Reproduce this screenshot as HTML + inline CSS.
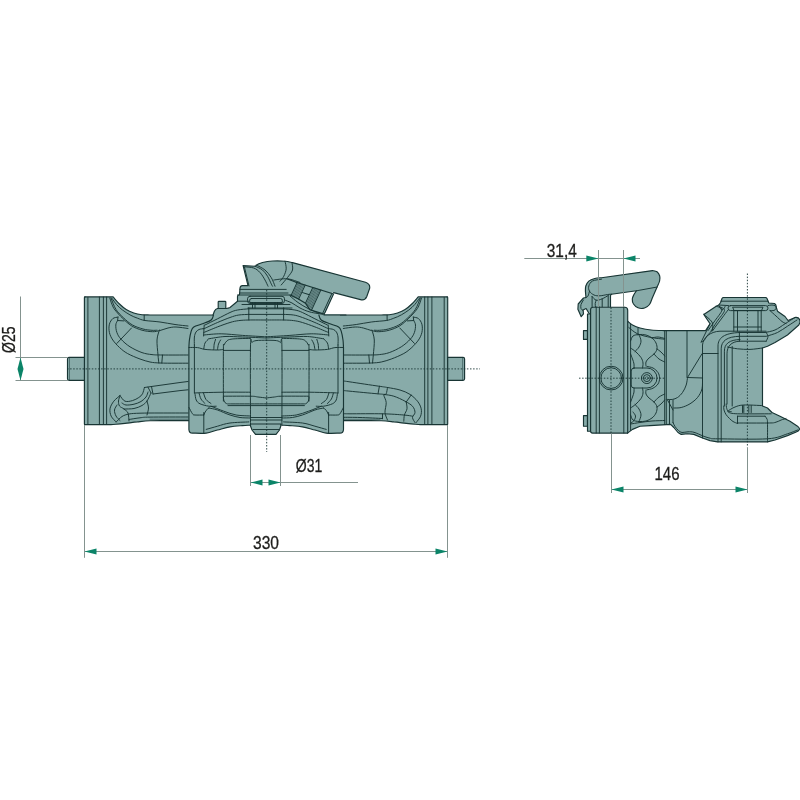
<!DOCTYPE html>
<html>
<head>
<meta charset="utf-8">
<title>Drawing</title>
<style>
html,body{margin:0;padding:0;background:#fff;}
body{width:800px;height:800px;overflow:hidden;}
svg{display:block;will-change:transform;}
text{font-family:"Liberation Sans",sans-serif;fill:#1d1d1b;stroke:#1d1d1b;stroke-width:0.3;}
.b{fill:#88aba9;stroke:#183534;stroke-width:1.15;stroke-linejoin:round;stroke-linecap:round;}
.f{fill:#88aba9;stroke:none;}
.o{fill:none;stroke:#183534;stroke-width:1.15;stroke-linejoin:round;stroke-linecap:round;}
.l{fill:none;stroke:#183534;stroke-width:0.95;stroke-linejoin:round;stroke-linecap:round;}
.t{fill:none;stroke:#183534;stroke-width:0.5;stroke-linejoin:round;stroke-linecap:round;}
.c{fill:none;stroke:#183534;stroke-width:0.9;stroke-dasharray:1.5 1.6;}
.d{fill:none;stroke:#84938f;stroke-width:1;}
.a{fill:#0b8468;stroke:none;}
</style>
</head>
<body>
<svg width="800" height="800" viewBox="0 0 800 800">
<rect width="800" height="800" fill="#fff"/>
<g id="lv">
<path class="f" d="M85 296.900H113.100C114.2 298.1 117.3 301.9 119.5 304C121.7 306.1 123.8 308.1 126.2 309.6C128.6 311.1 131.2 312.1 133.8 313C136.4 313.9 139.3 314.4 142 314.7C144.7 315 148.7 314.9 150 315H214V420.600H192C188.3 420.6 177 420.6 170 420.6C163 420.6 155.4 420.5 150 420.7C144.6 420.9 141.7 421.4 137.5 421.9C133.3 422.3 128.6 423 125 423.4C121.4 423.8 118.3 424.1 116 424.3C113.7 424.5 111.8 424.6 111 424.6H85Q84.4 424.600 84.4 424V297.700Q84.4 296.900 85 296.900Z"/>
<path class="o" d="M85 296.900H113.100C114.2 298.1 117.3 301.9 119.5 304C121.7 306.1 123.8 308.1 126.2 309.6C128.6 311.1 131.2 312.1 133.8 313C136.4 313.9 139.3 314.4 142 314.7C144.7 315 148.7 314.9 150 315H214"/>
<path class="o" d="M192 420.600C188.3 420.6 177 420.6 170 420.6C163 420.6 155.4 420.5 150 420.7C144.6 420.9 141.7 421.4 137.5 421.9C133.3 422.3 128.6 423 125 423.4C121.4 423.8 118.3 424.1 116 424.3C113.7 424.5 111.8 424.6 111 424.6H85Q84.4 424.600 84.4 424V297.700Q84.4 296.900 85 296.900"/>
<path class="b" d="M84.4 357.400H69Q67.5 357.400 67.5 358.900V378.800Q67.5 380.300 69 380.300H84.4Z"/>
<path class="t" d="M69.5 357.4L69.5 380.3"/>
<path class="l" d="M87.9 297.5L87.9 424"/>
<path class="l" d="M99.4 297L99.4 424.3"/>
<path class="l" d="M103.4 297L103.4 424.3"/>
<path class="l" d="M106.6 297L106.6 424.3"/>
<path class="l" d="M112 298.4C112.8 299.4 114.8 302.6 116.5 304.5C118.2 306.4 120.2 308.3 122.5 310C124.8 311.7 127.5 313.5 130 314.9C132.5 316.3 135 317.3 137.5 318.2C140 319.1 141.2 319.9 145 320.5C148.8 321.1 155 321.3 160 322C165 322.7 170.3 323.8 175 324.5C179.7 325.2 185.8 325.8 188 326"/>
<path class="l" d="M109.8 298C110.2 299.1 111.1 302.5 112 304.5C112.9 306.5 113.2 307.7 115 310C116.8 312.3 119.8 315.6 122.5 318.2C125.2 320.8 128.2 323.8 131.5 325.8C134.8 327.8 138.5 329.2 142 330.2C145.5 331.2 149.5 331.6 152.5 331.7C155.5 331.8 157.4 331.1 160 330.5C162.6 329.9 165.3 328.6 168 328C170.7 327.4 172.7 326.9 176 327C179.3 327.1 186 328.2 188 328.5"/>
<path class="l" d="M111 298C111.8 299.9 113.9 306.2 116 309.5C118.1 312.8 120.8 315.2 123.5 317.8C126.2 320.4 129.2 323.1 132.5 325C135.8 326.9 139.8 328.1 143 329C146.2 329.9 149.7 330.1 152 330.3C154.3 330.5 156.2 330.2 157 330.2"/>
<path class="l" d="M144.2 315.2L144.2 320.4"/>
<path class="l" d="M118 317.1C117.1 317.4 114.2 317.4 112.8 318.6C111.4 319.8 110 321.9 109.4 324.2C108.8 326.5 108.8 329.9 109.4 332.5C110 335.1 111.1 337.5 112.8 340C114.5 342.5 117 345.2 119.5 347.5C122 349.8 124.1 351.6 127.5 353.5C130.9 355.4 136.2 357.6 140 359C143.8 360.4 146.7 361.3 150 362C153.3 362.7 155.8 362.8 160 363C164.2 363.2 170.3 363.2 175 363.2C179.7 363.2 185.8 363.2 188 363.2"/>
<path class="l" d="M117.6 320.5C117.3 321.2 115.9 323 115.8 325C115.7 327 116 330.1 116.9 332.5C117.8 334.9 118.8 336.8 121 339.2C123.2 341.6 126.5 344.6 130 346.8C133.5 349 138.3 351.3 142 352.6C145.7 353.9 148.6 354.2 152 354.6C155.4 355 156.5 354.9 162.5 355C168.5 355.1 183.8 355 188 355"/>
<path class="l" d="M118 317.1L117.6 320.5L124 320.9"/>
<path class="l" d="M131.5 328L116.9 343.4"/>
<path class="l" d="M159.4 330C159 331.7 157.2 335.8 157 340C156.8 344.2 157.7 351.2 158 355C158.3 358.8 158.7 361.7 158.8 363"/>
<path class="l" d="M162.5 355L161.8 363"/>
<path class="l" d="M144.4 387.5L180 382.5L188 381.5"/>
<path class="l" d="M153 394L180 390.6L188 389.8"/>
<path class="l" d="M148 387.2L151 393"/>
<path class="l" d="M151.5 386.6L153 394"/>
<path class="l" d="M144.4 387.5C144.1 388.6 143.4 392.1 142.5 393.8C141.6 395.5 140.5 396.4 138.8 397.5C137.1 398.6 134.8 400 132.5 400.6C130.2 401.2 127.1 402 125 401.2C122.9 400.4 120.8 396.5 120 395.6"/>
<path class="l" d="M120 395.6C119 396.5 115.5 399 113.8 401.2C112.1 403.4 110.4 406.3 110 408.8C109.6 411.3 110.2 414 111.2 416.2C112.2 418.4 115.4 421 116.2 422"/>
<path class="l" d="M148 392C147.7 392.8 147.2 395.4 146 397C144.8 398.6 143 400.3 141 401.5C139 402.7 136.5 403.6 134 404.2C131.5 404.8 128 405.2 126 405C124 404.8 122.7 403.3 122 403"/>
<path class="l" d="M120 395.6C119.8 396.5 118.6 399.3 118.5 401C118.4 402.7 118.6 404.7 119.5 406C120.4 407.3 122.6 407.8 124 409C125.4 410.2 127.2 411 128 413C128.8 415 128.8 419.7 129 421"/>
<path class="l" d="M117 405C116.6 405.8 114.7 408.2 114.5 410C114.3 411.8 115.1 414.2 116 416C116.9 417.8 119.3 419.8 120 420.5"/>
<path class="l" d="M124 409C125.7 408.9 131 409.1 134 408.5C137 407.9 139.8 406.8 142 405.5C144.2 404.2 145.5 403.1 147 401C148.5 398.9 150.3 394.3 151 393"/>
<path class="l" d="M147 401C147.2 402.2 148.5 405.7 148.5 408C148.5 410.3 147.2 413.8 147 415"/>
<path class="l" d="M116.2 422C117.2 421.1 119.9 417.8 122 416.5C124.1 415.2 126 414.6 129 414C132 413.4 134.8 413.4 140 413.2C145.2 413 152 413 160 413C168 413 183.3 413 188 413"/>
<path class="l" d="M129 419.5C130.8 419.2 136.5 418.2 140 417.8C143.5 417.4 142 417.2 150 417.1C158 417 181.7 417 188 417"/>
<path class="t" d="M150 419.2L188 419.2"/>
</g>
<g transform="translate(531.3 0) scale(-1 1)">
<path class="f" d="M84.2 296.900H113.100C114.2 298.1 117.3 301.9 119.5 304C121.7 306.1 123.8 308.1 126.2 309.6C128.6 311.1 131.2 312.1 133.8 313C136.4 313.9 139.3 314.4 142 314.7C144.7 315 148.7 314.9 150 315H214V420.600H192C188.3 420.6 177 420.6 170 420.6C163 420.6 155.4 420.5 150 420.7C144.6 420.9 141.7 421.4 137.5 421.9C133.3 422.3 128.6 423 125 423.4C121.4 423.8 118.3 424.1 116 424.3C113.7 424.5 111.8 424.6 111 424.6H84.2Q83.6 424.600 83.6 424V297.700Q83.6 296.900 84.2 296.900Z"/>
<path class="o" d="M84.2 296.900H113.100C114.2 298.1 117.3 301.9 119.5 304C121.7 306.1 123.8 308.1 126.2 309.6C128.6 311.1 131.2 312.1 133.8 313C136.4 313.9 139.3 314.4 142 314.7C144.7 315 148.7 314.9 150 315H214"/>
<path class="o" d="M192 420.600C188.3 420.6 177 420.6 170 420.6C163 420.6 155.4 420.5 150 420.7C144.6 420.9 141.7 421.4 137.5 421.9C133.3 422.3 128.6 423 125 423.4C121.4 423.8 118.3 424.1 116 424.3C113.7 424.5 111.8 424.6 111 424.6H84.2Q83.6 424.600 83.6 424V297.700Q83.6 296.900 84.2 296.900"/>
<path class="b" d="M83.6 357.400H68.2Q66.7 357.400 66.7 358.900V378.800Q66.7 380.300 68.2 380.300H83.6Z"/>
<path class="t" d="M68.7 357.4L68.7 380.3"/>
<path class="l" d="M87.1 297.5L87.1 424"/>
<path class="l" d="M99.4 297L99.4 424.3"/>
<path class="l" d="M103.4 297L103.4 424.3"/>
<path class="l" d="M106.6 297L106.6 424.3"/>
<path class="l" d="M112 298.4C112.8 299.4 114.8 302.6 116.5 304.5C118.2 306.4 120.2 308.3 122.5 310C124.8 311.7 127.5 313.5 130 314.9C132.5 316.3 135 317.3 137.5 318.2C140 319.1 141.2 319.9 145 320.5C148.8 321.1 155 321.3 160 322C165 322.7 170.3 323.8 175 324.5C179.7 325.2 185.8 325.8 188 326"/>
<path class="l" d="M109.8 298C110.2 299.1 111.1 302.5 112 304.5C112.9 306.5 113.2 307.7 115 310C116.8 312.3 119.8 315.6 122.5 318.2C125.2 320.8 128.2 323.8 131.5 325.8C134.8 327.8 138.5 329.2 142 330.2C145.5 331.2 149.5 331.6 152.5 331.7C155.5 331.8 157.4 331.1 160 330.5C162.6 329.9 165.3 328.6 168 328C170.7 327.4 172.7 326.9 176 327C179.3 327.1 186 328.2 188 328.5"/>
<path class="l" d="M111 298C111.8 299.9 113.9 306.2 116 309.5C118.1 312.8 120.8 315.2 123.5 317.8C126.2 320.4 129.2 323.1 132.5 325C135.8 326.9 139.8 328.1 143 329C146.2 329.9 149.7 330.1 152 330.3C154.3 330.5 156.2 330.2 157 330.2"/>
<path class="l" d="M144.2 315.2L144.2 320.4"/>
<path class="l" d="M118 317.1C117.1 317.4 114.2 317.4 112.8 318.6C111.4 319.8 110 321.9 109.4 324.2C108.8 326.5 108.8 329.9 109.4 332.5C110 335.1 111.1 337.5 112.8 340C114.5 342.5 117 345.2 119.5 347.5C122 349.8 124.1 351.6 127.5 353.5C130.9 355.4 136.2 357.6 140 359C143.8 360.4 146.7 361.3 150 362C153.3 362.7 155.8 362.8 160 363C164.2 363.2 170.3 363.2 175 363.2C179.7 363.2 185.8 363.2 188 363.2"/>
<path class="l" d="M117.6 320.5C117.3 321.2 115.9 323 115.8 325C115.7 327 116 330.1 116.9 332.5C117.8 334.9 118.8 336.8 121 339.2C123.2 341.6 126.5 344.6 130 346.8C133.5 349 138.3 351.3 142 352.6C145.7 353.9 148.6 354.2 152 354.6C155.4 355 156.5 354.9 162.5 355C168.5 355.1 183.8 355 188 355"/>
<path class="l" d="M118 317.1L117.6 320.5L124 320.9"/>
<path class="l" d="M131.5 328L116.9 343.4"/>
<path class="l" d="M159.4 330C159 331.7 157.2 335.8 157 340C156.8 344.2 157.7 351.2 158 355C158.3 358.8 158.7 361.7 158.8 363"/>
<path class="l" d="M162.5 355L161.8 363"/>
<path class="l" d="M188.3 381C187.1 381.1 187.3 381 181.3 381.9C175.3 382.8 158.8 385.3 152.5 386.2C146.2 387.1 147.3 386.9 143.8 387.5C140.3 388.1 135.1 388.9 131.3 390C127.6 391.1 124.2 392.5 121.3 394.4C118.4 396.3 115.7 398.8 113.8 401.2C111.9 403.6 110.6 406.3 110.1 408.8C109.6 411.3 109.9 413.9 110.7 416.2C111.5 418.5 114.4 421.4 115.1 422.5"/>
<path class="l" d="M188.3 390.5C187.1 390.6 187.1 390.6 181.3 391.2C175.6 391.8 159.4 393.3 153.8 393.8C148.2 394.3 150.2 394 147.5 394.4C144.8 394.8 141 395.1 137.5 396.2C134 397.3 129.4 399.5 126.3 401.2C123.2 402.9 120.5 404.3 118.8 406.2C117.1 408.1 116.3 410.6 116.3 412.5C116.3 414.4 118.8 415.8 118.8 417.5C118.8 419.2 116.7 421.7 116.3 422.5"/>
<path class="l" d="M151.9 386.2L153.3 393.8"/>
<path class="l" d="M143.8 387.5C144 388.6 144.5 392.6 145.1 393.8C145.7 395.1 147.5 393.6 147.5 395C147.5 396.4 145.3 399.6 145.1 402.5C144.9 405.4 146.5 409.6 146.3 412.5C146.1 415.4 144.2 418.8 143.8 420"/>
<path class="l" d="M120.1 395L125.1 402"/>
<path class="l" d="M125.1 402C125 403.1 124 406.6 124.3 408.8C124.6 411 126.4 412.9 126.9 415C127.4 417.1 127.4 420.2 127.5 421.2"/>
<path class="l" d="M188.3 413.6C187.1 413.6 187.9 413.8 181.3 413.8C174.7 413.8 157.8 413.6 148.8 413.8C139.8 414 132.5 414.6 127.5 415C122.5 415.4 120.2 416 118.8 416.2"/>
<path class="l" d="M188.3 417.3C185.5 417.3 177.9 417.3 171.3 417.5C164.7 417.7 152.6 418.3 148.8 418.5"/>
<path class="t" d="M188.3 419.3L151.3 419.3"/>
<path class="l" d="M148.8 413.8L148.8 418.8"/>
</g>
<g id="lc">
<path class="f" d="M248 285.600L243.100 265.600L255 266.300C256.8 264.6 259.7 263.2 262.5 262.5C265.3 261.8 268.8 261.2 272.5 261C276.2 260.8 281.7 260.9 285 261.2C288.3 261.5 291.2 262.4 292.5 262.6L365.500 282.300Q370.500 284 369.600 288.500L366.800 296.500Q365 300.800 360.500 299.600L333.600 292.600L300 300L250 290Z"/>
<path class="o" d="M248 285.600L243.100 265.600L255 266.300C256.8 264.6 259.7 263.2 262.5 262.5C265.3 261.8 268.8 261.2 272.5 261C276.2 260.8 281.7 260.9 285 261.2C288.3 261.5 291.2 262.4 292.5 262.6L365.500 282.300Q370.500 284 369.600 288.500L366.800 296.500Q365 300.800 360.500 299.600L333.600 292.600"/>
<path class="b" d="M218.200 310V302Q218.200 301.300 219 301.300H225Q225.800 301.300 225.800 302V310Z"/>
<path class="f" d="M213 330V315L213 315L214.400 311.300Q215.500 309 217.500 308.500H226.200Q228.500 308.300 230 307.500L237.500 301.200V296.500Q237.500 295 239.500 294.800L240 288Q240.300 285.600 242.500 285.600H248L290 285.600L300 300L324.500 314.500H340V330Z"/>
<path class="o" d="M213 315L214.400 311.300Q215.500 309 217.500 308.500H226.200Q228.500 308.300 230 307.500L237.500 301.200V296.500Q237.500 295 239.500 294.800L240 288Q240.300 285.600 242.500 285.600H248"/>
<g transform="matrix(0.955 0.297 -0.42 0.907 296.1 282.25)">
<path class="f" d="M0 0H39.300V20.500Q39.300 22.300 37.500 22.300H24.200L17.500 17.400L8.700 15.300L0 14Z"/>
<path class="t" d="M2.2 0V14.3"/>
<path class="t" d="M3.4 0V14.5"/>
<path class="t" d="M4.6 0V14.6"/>
<path class="t" d="M5.8 0V14.8"/>
<path class="t" d="M7 0V14.9"/>
<path class="t" d="M8.3 0V15.1"/>
<path class="t" d="M18.7 0V18.1"/>
<path class="t" d="M19.9 0V18.7"/>
<path class="t" d="M21.1 0V19.3"/>
<path class="t" d="M22.3 0V19.9"/>
<path class="t" d="M23.6 0V20.5"/>
<path class="t" d="M24.8 0V21.1"/>
<path class="l" d="M9.500 0V15.500M17.500 0V17.400M26 0V22.300M1 0V14.200M9.500 8H17.500M37.500 1V21.500"/>
<path class="o" d="M0 0H39.300V20.500Q39.300 22.300 37.500 22.300H24.200L17.500 17.400L8.700 15.300L0 14"/>
</g>
<path class="f" d="M213.500 315H319V316L343.500 347.500V420H189V347.500Z"/>
<path class="f" d="M188.900 347V429.400Q189 433.100 192.500 433.100C194.8 433.1 202 433.6 206.2 433.1C210.4 432.6 213.5 431 217.5 430C221.5 429 225.8 427.6 230 426.9C234.2 426.2 239.1 425.9 242.5 425.6C245.9 425.3 249.2 425.3 250.5 425.2H281.900C283.2 425.3 286.5 425.3 289.9 425.6C293.3 425.9 298.2 426.2 302.4 426.9C306.6 427.6 310.9 429 314.9 430C318.9 431 322 432.6 326.2 433.1C330.4 433.6 337.6 433.1 339.9 433.1Q343.400 433.100 343.500 429.400V347Z"/>
<path class="o" d="M324 315H346"/>
<path class="b" d="M250.500 424V426L252 430L255.500 434.400H276L279.500 430L280.800 426V424Z"/>
<path class="l" d="M253 429.500H279"/>
<path class="o" d="M213.5 315C213.1 315.8 213 318.5 211.2 320C209.4 321.5 205.4 322.7 202.5 323.8C199.6 324.9 195.7 325.7 193.8 326.9C191.9 328.1 191.9 329 191.2 331.2C190.5 333.4 189.8 337.3 189.4 340C189 342.7 189 346.2 188.9 347.5V429.400Q189 433.100 192.500 433.100C194.8 433.1 202 433.6 206.2 433.1C210.4 432.6 213.5 431 217.5 430C221.5 429 225.8 427.6 230 426.9C234.2 426.2 239.1 425.9 242.5 425.6C245.9 425.3 249.2 425.3 250.5 425.2"/>
<path class="l" d="M203.8 328.6C203 328.8 200.3 328.9 199 329.5C197.7 330.1 196.8 330.8 196 332C195.2 333.2 194.7 334.8 194.4 337C194.1 339.2 194.4 343.7 194.4 345"/>
<path class="l" d="M194.4 345L194.4 393"/>
<path class="l" d="M189 347.5C190.4 347.5 194.8 347.3 197.5 347.6C200.2 347.9 201.7 349 205 349.4C208.3 349.8 214.4 350 217.5 350C220.6 350 222.4 349.5 223.4 349.4"/>
<path class="l" d="M223.4 401C223.4 392.4 223.3 358.7 223.4 349.4C223.5 340.1 223.4 346.4 224 345C224.6 343.6 225.8 341.8 227 340.8C228.2 339.8 228.8 339.6 231 339.2C233.2 338.8 236.8 338.7 240 338.6C243.2 338.5 248.8 338.4 250.5 338.4"/>
<path class="l" d="M223.4 350.4L250.5 350.4"/>
<path class="l" d="M203.8 348.8C204 347.8 204.2 344.7 205 343C205.8 341.3 208.2 339.5 208.8 338.8"/>
<path class="l" d="M213.8 349.4C213.9 348.5 213.9 345.7 214.2 344C214.5 342.3 215.4 340.2 215.6 339.4"/>
<path class="l" d="M217.5 349.4C217.7 348.5 218 345.6 218.5 344C219 342.4 220.2 340.7 220.6 340"/>
<path class="l" d="M204.2 325L203.6 336"/>
<path class="l" d="M205 325C207.1 324 213.3 320.9 217.5 318.8C221.7 316.7 226.7 314 230 312.5C233.3 311 234.4 310.6 237.5 310C240.6 309.4 246.9 309 248.8 308.8"/>
<path class="l" d="M203.8 328.8C206.1 327.8 213.1 324.4 217.5 322.5C221.9 320.6 226.4 318.8 230 317.5C233.6 316.2 235.7 315.5 238.8 315C241.9 314.5 247.1 314.5 248.8 314.4"/>
<path class="l" d="M203.8 332.5C206.1 331.6 213.1 328.6 217.5 326.9C221.9 325.2 226.4 323.6 230 322.5C233.6 321.4 235.7 321 238.8 320.6C241.9 320.2 244.2 320.1 248.8 320C253.4 319.9 263.3 320 266.2 320"/>
<path class="l" d="M203.8 335C206.7 334.8 214.8 333.7 221.2 333.8C227.6 333.9 235 334.9 242.5 335.4C250 335.9 262.2 336.6 266.2 336.8"/>
<path class="l" d="M208.8 338.8C211.5 338.4 219.4 336.8 225 336.5C230.6 336.2 235.6 336.8 242.5 337C249.4 337.2 262.2 337.8 266.2 338"/>
<path class="l" d="M248.8 307.8L248.8 320"/>
<path class="l" d="M248.8 308.8L266.2 308.8"/>
<path class="l" d="M248.8 314.4L266.2 314.4"/>
<path class="l" d="M250.5 425C250.5 411.8 250.2 359.8 250.5 346C250.8 332.2 251.1 343.4 252 342.5C252.9 341.6 253.6 341 256 340.6C258.4 340.2 264.5 340.3 266.2 340.2"/>
<path class="l" d="M194.4 393C196.2 392.9 200.2 392.7 205 392.6C209.8 392.5 215.8 392.3 223.4 392.2C231 392.1 246 392.2 250.5 392.2"/>
<path class="l" d="M223.4 397C223.5 397.7 223.5 399.9 224 401C224.5 402.1 225.2 403.1 226.5 403.6C227.8 404.1 225.4 403.8 232 403.9C238.6 403.9 260.5 403.9 266.2 403.9"/>
<path class="l" d="M223.8 396.2C228.2 396.2 244.8 396.1 250.5 396.2C256.2 396.3 255.4 396.7 258 397C260.6 397.3 264.8 397.8 266.2 398"/>
<path class="l" d="M228 405.6L266.2 405.6"/>
<path class="l" d="M208.8 408C210.2 408.3 214 408.8 217.5 410C221 411.2 226.2 413.8 230 415C233.8 416.2 236.6 417 240 417.5C243.4 418 248.8 417.9 250.5 418"/>
<path class="l" d="M211 406.2C213.1 407 219.6 409.7 223.8 411.2C228 412.7 231.8 414.2 236.2 415C240.6 415.8 248.1 415.8 250.5 416"/>
<path class="l" d="M250.5 417.5L266.2 417.5"/>
<path class="l" d="M250.5 420L266.2 420"/>
<path class="l" d="M189 407.5C189.6 408.6 191.5 412.6 192.5 413.8C193.5 415.1 193.1 414.8 195 415C196.9 415.2 202.3 415 203.8 415"/>
<path class="l" d="M195 393.8C195.2 394.8 195.4 398.3 196.2 400C197 401.7 197.9 402.8 200 403.8C202.1 404.8 206.1 405.8 208.8 406.2C211.5 406.6 215 406.2 216.2 406.2"/>
<path class="l" d="M199 393C199.3 394 200 397.2 201 399C202 400.8 204.3 402.8 205 403.5"/>
<path class="l" d="M203.5 393C203.9 394.1 204.8 397.8 206 399.5C207.2 401.2 210.2 402.8 211 403.5"/>
<path class="l" d="M203.8 412.5L203.8 432.8"/>
<path class="l" d="M203.8 415C204.2 414.2 205.1 411.7 206 410.5C206.9 409.3 208.5 408.4 209 408"/>
<path class="l" d="M206.2 429.4C208.1 428.9 213.5 427.3 217.5 426.2C221.5 425.1 224.8 423.7 230 423C235.2 422.3 245.7 422.1 248.8 421.9"/>
<g transform="translate(532.4 0) scale(-1 1)">
<path class="o" d="M213.5 315C213.1 315.8 213 318.5 211.2 320C209.4 321.5 205.4 322.7 202.5 323.8C199.6 324.9 195.7 325.7 193.8 326.9C191.9 328.1 191.9 329 191.2 331.2C190.5 333.4 189.8 337.3 189.4 340C189 342.7 189 346.2 188.9 347.5V429.400Q189 433.100 192.500 433.100C194.8 433.1 202 433.6 206.2 433.1C210.4 432.6 213.5 431 217.5 430C221.5 429 225.8 427.6 230 426.9C234.2 426.2 239.1 425.9 242.5 425.6C245.9 425.3 249.2 425.3 250.5 425.2"/>
<path class="l" d="M203.8 328.6C203 328.8 200.3 328.9 199 329.5C197.7 330.1 196.8 330.8 196 332C195.2 333.2 194.7 334.8 194.4 337C194.1 339.2 194.4 343.7 194.4 345"/>
<path class="l" d="M194.4 345L194.4 393"/>
<path class="l" d="M189 347.5C190.4 347.5 194.8 347.3 197.5 347.6C200.2 347.9 201.7 349 205 349.4C208.3 349.8 214.4 350 217.5 350C220.6 350 222.4 349.5 223.4 349.4"/>
<path class="l" d="M223.4 401C223.4 392.4 223.3 358.7 223.4 349.4C223.5 340.1 223.4 346.4 224 345C224.6 343.6 225.8 341.8 227 340.8C228.2 339.8 228.8 339.6 231 339.2C233.2 338.8 236.8 338.7 240 338.6C243.2 338.5 248.8 338.4 250.5 338.4"/>
<path class="l" d="M223.4 350.4L250.5 350.4"/>
<path class="l" d="M203.8 348.8C204 347.8 204.2 344.7 205 343C205.8 341.3 208.2 339.5 208.8 338.8"/>
<path class="l" d="M213.8 349.4C213.9 348.5 213.9 345.7 214.2 344C214.5 342.3 215.4 340.2 215.6 339.4"/>
<path class="l" d="M217.5 349.4C217.7 348.5 218 345.6 218.5 344C219 342.4 220.2 340.7 220.6 340"/>
<path class="l" d="M204.2 325L203.6 336"/>
<path class="l" d="M205 325C207.1 324 213.3 320.9 217.5 318.8C221.7 316.7 226.7 314 230 312.5C233.3 311 234.4 310.6 237.5 310C240.6 309.4 246.9 309 248.8 308.8"/>
<path class="l" d="M203.8 328.8C206.1 327.8 213.1 324.4 217.5 322.5C221.9 320.6 226.4 318.8 230 317.5C233.6 316.2 235.7 315.5 238.8 315C241.9 314.5 247.1 314.5 248.8 314.4"/>
<path class="l" d="M203.8 332.5C206.1 331.6 213.1 328.6 217.5 326.9C221.9 325.2 226.4 323.6 230 322.5C233.6 321.4 235.7 321 238.8 320.6C241.9 320.2 244.2 320.1 248.8 320C253.4 319.9 263.3 320 266.2 320"/>
<path class="l" d="M203.8 335C206.7 334.8 214.8 333.7 221.2 333.8C227.6 333.9 235 334.9 242.5 335.4C250 335.9 262.2 336.6 266.2 336.8"/>
<path class="l" d="M208.8 338.8C211.5 338.4 219.4 336.8 225 336.5C230.6 336.2 235.6 336.8 242.5 337C249.4 337.2 262.2 337.8 266.2 338"/>
<path class="l" d="M248.8 307.8L248.8 320"/>
<path class="l" d="M248.8 308.8L266.2 308.8"/>
<path class="l" d="M248.8 314.4L266.2 314.4"/>
<path class="l" d="M250.5 425C250.5 411.8 250.2 359.8 250.5 346C250.8 332.2 251.1 343.4 252 342.5C252.9 341.6 253.6 341 256 340.6C258.4 340.2 264.5 340.3 266.2 340.2"/>
<path class="l" d="M194.4 393C196.2 392.9 200.2 392.7 205 392.6C209.8 392.5 215.8 392.3 223.4 392.2C231 392.1 246 392.2 250.5 392.2"/>
<path class="l" d="M223.4 397C223.5 397.7 223.5 399.9 224 401C224.5 402.1 225.2 403.1 226.5 403.6C227.8 404.1 225.4 403.8 232 403.9C238.6 403.9 260.5 403.9 266.2 403.9"/>
<path class="l" d="M223.8 396.2C228.2 396.2 244.8 396.1 250.5 396.2C256.2 396.3 255.4 396.7 258 397C260.6 397.3 264.8 397.8 266.2 398"/>
<path class="l" d="M228 405.6L266.2 405.6"/>
<path class="l" d="M208.8 408C210.2 408.3 214 408.8 217.5 410C221 411.2 226.2 413.8 230 415C233.8 416.2 236.6 417 240 417.5C243.4 418 248.8 417.9 250.5 418"/>
<path class="l" d="M211 406.2C213.1 407 219.6 409.7 223.8 411.2C228 412.7 231.8 414.2 236.2 415C240.6 415.8 248.1 415.8 250.5 416"/>
<path class="l" d="M250.5 417.5L266.2 417.5"/>
<path class="l" d="M250.5 420L266.2 420"/>
<path class="l" d="M189 407.5C189.6 408.6 191.5 412.6 192.5 413.8C193.5 415.1 193.1 414.8 195 415C196.9 415.2 202.3 415 203.8 415"/>
<path class="l" d="M195 393.8C195.2 394.8 195.4 398.3 196.2 400C197 401.7 197.9 402.8 200 403.8C202.1 404.8 206.1 405.8 208.8 406.2C211.5 406.6 215 406.2 216.2 406.2"/>
<path class="l" d="M199 393C199.3 394 200 397.2 201 399C202 400.8 204.3 402.8 205 403.5"/>
<path class="l" d="M203.5 393C203.9 394.1 204.8 397.8 206 399.5C207.2 401.2 210.2 402.8 211 403.5"/>
<path class="l" d="M203.8 412.5L203.8 432.8"/>
<path class="l" d="M203.8 415C204.2 414.2 205.1 411.7 206 410.5C206.9 409.3 208.5 408.4 209 408"/>
<path class="l" d="M206.2 429.4C208.1 428.9 213.5 427.3 217.5 426.2C221.5 425.1 224.8 423.7 230 423C235.2 422.3 245.7 422.1 248.8 421.9"/>
</g>
<path class="l" d="M244.4 266.9L249 286"/>
<path class="l" d="M245 266.9C246.5 267.1 251.3 267.1 253.8 268C256.3 268.9 258.1 270.5 260 272.5C261.9 274.5 263.7 277.7 265 280C266.3 282.3 267.5 285.2 268 286.2"/>
<path class="l" d="M255 266.2C256.2 266.8 260.4 268.3 262.5 270C264.6 271.7 266.1 273.9 267.5 276.2C268.9 278.5 270.4 282.1 271.2 283.8C272 285.5 272.3 285.8 272.5 286.2"/>
<path class="l" d="M256.2 265C257.7 265.8 262.5 267.9 265 270C267.5 272.1 269.5 274.8 271.2 277.5C272.9 280.2 274.4 284.8 275 286.2"/>
<path class="l" d="M285 261.2C285.2 262.5 286.4 266.3 286.2 268.8C286 271.3 284.8 274.1 283.8 276.2C282.8 278.3 280.6 280.4 280 281.2"/>
<path class="l" d="M291.9 262.5C292 263.8 293.2 267.5 292.5 270C291.8 272.5 289.4 275 287.5 277.5C285.6 280 282.2 283.8 281.2 285"/>
<path class="l" d="M273.8 280C276.1 279.8 283.1 278.4 287.5 278.8C291.9 279.2 297.9 281.9 300 282.5"/>
<path class="o" d="M287.5 279L296.1 282.2"/>
<path class="l" d="M240 289.4L286.2 289.4"/>
<path class="l" d="M240 293L288 293"/>
<path class="l" d="M237.5 295L290 295"/>
<path class="l" d="M250 296.300H282Q284.500 296.300 284.500 298.800V300.500Q284.500 303.500 282 303.500H250Q247.500 303.500 247.500 300.500V298.800Q247.500 296.300 250 296.300Z"/>
<path class="l" d="M251.500 298.500H280.500Q282.300 298.500 282.300 300.300V302.500H249.700V300.300Q249.700 298.500 251.500 298.500Z"/>
<path class="l" d="M252.5 302.5L252.5 308"/>
<path class="l" d="M255 302.5L255 308"/>
<path class="l" d="M275 302.5L275 308"/>
<path class="l" d="M277.5 302.5L277.5 308"/>
<path class="l" d="M237.5 301.2L248.8 301.2"/>
<path class="l" d="M242 304.5L290 304.5"/>
<path class="l" d="M248 308L292 308"/>
<path class="l" d="M284.5 300C285.8 300.5 289.4 301.7 292 303C294.6 304.3 297 306.5 300 308C303 309.5 305.9 310.9 310 312C314.1 313.1 322.1 314.1 324.5 314.5"/>
<path class="l" d="M290 296C291.3 297.1 295 300.4 298 302.5C301 304.6 304.7 306.8 308 308.5C311.3 310.2 316.3 312.2 318 313"/>
</g>
<g id="rv">
<path class="f" d="M586 298L585.400 291.200C585.5 290.3 585.2 287.7 585.8 286C586.4 284.3 587.3 282.4 588.8 281.1C590.3 279.9 592.7 279.1 594.8 278.5C596.9 277.9 600.4 277.8 601.5 277.7L652.500 270.600C653.2 270.8 655.8 270.9 657 271.8C658.2 272.7 659.3 274.5 659.7 276C660.1 277.5 660 279.2 659.6 281C659.2 282.8 657.6 285.8 657.2 286.8L652.300 298C651.8 299.1 650.8 302.8 649.5 304.5C648.2 306.2 646.4 307.4 644.5 308C642.6 308.6 639.8 308.5 638 307.8C636.2 307.1 634.5 305.5 633.5 304C632.5 302.5 632.2 300.6 632.3 299C632.4 297.4 633.3 295.9 634 294.5C634.7 293.1 636.1 291.4 636.5 290.8L611.500 294.200L610.500 295.500V307.200H586Z"/>
<path class="o" d="M586 298L585.400 291.200C585.5 290.3 585.2 287.7 585.8 286C586.4 284.3 587.3 282.4 588.8 281.1C590.3 279.9 592.7 279.1 594.8 278.5C596.9 277.9 600.4 277.8 601.5 277.7L652.500 270.600C653.2 270.8 655.8 270.9 657 271.8C658.2 272.7 659.3 274.5 659.7 276C660.1 277.5 660 279.2 659.6 281C659.2 282.8 657.6 285.8 657.2 286.8L652.300 298C651.8 299.1 650.8 302.8 649.5 304.5C648.2 306.2 646.4 307.4 644.5 308C642.6 308.6 639.8 308.5 638 307.8C636.2 307.1 634.5 305.5 633.5 304C632.5 302.5 632.2 300.6 632.3 299C632.4 297.4 633.3 295.9 634 294.5C634.7 293.1 636.1 291.4 636.5 290.8L611.500 294.200L610.500 295.500V307.200"/>
<path class="f" d="M586 297.500L583.500 298L578.200 304L577.900 309.200L581.200 316.700L583.500 313.800L583.100 310L586.100 308.500L588.800 313L591 316V297.500Z"/>
<path class="o" d="M586 297.500L583.500 298L578.200 304L577.900 309.200L581.200 316.700L583.500 313.800L583.100 310L586.100 308.500L588.800 313L591 316"/>
<path class="l" d="M583.5 300C583.1 300.8 581.4 303.1 581 304.5C580.6 305.9 580.7 307.5 581 308.5C581.3 309.5 582.7 310.2 583 310.5"/>
<path class="l" d="M636.5 290.8L657.2 287"/>
<path class="l" d="M592.1 296.5L592.1 307.2"/>
<path class="l" d="M595.5 307.2C595.5 306.6 595.1 304.7 595.2 303.5C595.3 302.3 596 300.8 596.2 300.2"/>
<path class="l" d="M602.2 298.8L602.2 307.2"/>
<path class="l" d="M608.2 295.5L608.2 307.2"/>
<path class="l" d="M592.1 296.5C592.8 297.1 594.5 299.8 596.2 300.2C597.9 300.6 600.2 299.6 602.2 298.8C604.2 298 607.2 296.1 608.2 295.5"/>
<path class="l" d="M601.5 279.2C600 279.5 594.6 279.9 592.5 281C590.4 282.1 589.3 284.3 588.8 286C588.3 287.7 588.6 289.7 589.5 291.2C590.4 292.7 592.2 294.2 594 295C595.8 295.8 597.8 295.9 600 295.8C602.2 295.7 605.6 294.8 607.5 294.5C609.4 294.2 610.8 294.2 611.5 294.2"/>
<path class="l" d="M586 297.5C586.3 297.2 587.4 297.1 588 296C588.6 294.9 589.2 292 589.5 291.2"/>
<path class="b" d="M583.500 330.600H587.500V339.400H583.500Z"/>
<path class="b" d="M583.500 415.600H587.500V426.200H583.500Z"/>
<path class="b" d="M587.500 314H591V431.200H587.500Z"/>
<path class="f" d="M627.700 321.200C628.5 321.8 630.5 323.9 632.5 325C634.5 326.1 636.9 327.2 640 328C643.1 328.8 647.2 329.6 651.2 330C655.2 330.4 660.7 330.5 663.8 330.6C666.9 330.7 669 330.6 670 330.6L705.600 330.600L710 323.800L703.800 314.400L716.200 306.200L718.800 305L720.600 302.500L722 298.500Q722.500 297.500 723.500 297.500H765.500Q766.500 297.500 767 298.500L768.800 303L774.500 303.500Q776.500 305 776.200 307L777.500 311.200L785 316.500L788 320.500L795 317.500Q799 316.800 800 320.500L800 322.500L798.800 325L787.500 335L775 342.500L767.500 346.200L762.500 348V406L767.500 408L772 412.500L780 416.200L790 421.200L797.500 426.200Q800 428.500 799.400 429.400Q798.500 431.200 796.200 432L787.500 435.600L775 440L767.500 441.900H717.500L710 440.600L702.500 438L693.800 434.400L687.500 433.800L681.200 434.400L678 432.500L673.800 427.500L670.600 424.400L650 425.600L640 426.200L632.500 429.400L627.500 433.100H620V321Z"/>
<path class="o" d="M627.700 321.200C628.5 321.8 630.5 323.9 632.5 325C634.5 326.1 636.9 327.2 640 328C643.1 328.8 647.2 329.6 651.2 330C655.2 330.4 660.7 330.5 663.8 330.6C666.9 330.7 669 330.6 670 330.6L705.600 330.600L710 323.800L703.800 314.400L716.200 306.200L718.800 305L720.600 302.500L722 298.500Q722.500 297.500 723.500 297.500H765.500Q766.500 297.500 767 298.500L768.800 303L774.500 303.500Q776.500 305 776.200 307L777.500 311.200L785 316.500L788 320.500L795 317.500Q799 316.800 800 320.500L800 322.500L798.800 325L787.500 335L775 342.500L767.500 346.200L762.500 348V406L767.500 408L772 412.500L780 416.200L790 421.200L797.500 426.200Q800 428.500 799.400 429.400Q798.500 431.200 796.200 432L787.500 435.600L775 440L767.500 441.900H717.500L710 440.600L702.500 438L693.800 434.400L687.500 433.800L681.200 434.400L678 432.500L673.800 427.500L670.600 424.400L650 425.600L640 426.200L632.500 429.400L627.500 433.100"/>
<path class="b" d="M593 307.200H624.700Q627.700 307.200 627.700 310.200V433.100H592.600Q590.600 433.100 590.600 431.100V309.600Q590.600 307.200 593 307.200Z"/>
<path class="l" d="M596.2 307L596.2 433"/>
<path class="l" d="M599.4 307L599.4 433"/>
<path class="l" d="M623.8 307L623.8 433"/>
<circle class="l" cx="611.200" cy="378.100" r="11.900"/>
<circle class="l" cx="611.200" cy="378.100" r="10.300"/>
<path class="l" d="M628.8 327.5C630.2 328.6 633.8 332.1 637.5 333.8C641.2 335.5 646.7 336.6 651.2 337.5C655.7 338.4 662.2 338.9 664.4 339.2"/>
<path class="l" d="M630.6 324L630.6 430.5"/>
<path class="l" d="M638 328L638 335"/>
<path class="l" d="M664.7 330.8L664.7 424.6"/>
<path class="l" d="M666.3 330.8L666.3 424.6"/>
<path class="l" d="M634 368H647A10 10 0 0 1 647 388H634Q631.200 388 631.200 385V371Q631.200 368 634 368Z"/>
<circle class="l" cx="646.900" cy="378.100" r="5.500"/>
<circle class="l" cx="646.900" cy="378.100" r="3.500"/>
<circle class="t" cx="646.900" cy="378.100" r="1.500"/>
<path class="l" d="M647 366.5C648 366.8 651.2 367 653 368C654.8 369 656.9 370.8 658 372.5C659.1 374.2 659.6 376.2 659.6 378.1C659.6 380 659.1 382.3 658 384C656.9 385.7 654.8 387.2 653 388.2C651.2 389.2 648 389.5 647 389.8"/>
<path class="l" d="M630.6 341C631 340.2 631.6 337.1 633 336C634.4 334.9 636.8 334.7 639 334.5C641.2 334.3 643.8 334.4 646 335C648.2 335.6 650.3 336.7 652 338C653.7 339.3 655.2 341.2 656 343C656.8 344.8 657.3 347.2 657 349C656.7 350.8 655.3 352.5 654 354C652.7 355.5 650.3 356.7 649 358C647.7 359.3 646.5 360.7 646 362C645.5 363.3 646 365.3 646 366"/>
<path class="l" d="M630.6 348C631.5 348.7 634.3 350.4 636 352C637.7 353.6 639.8 355.7 641 357.5C642.2 359.3 642.8 361.2 643 363C643.2 364.8 642.6 367.2 642.5 368"/>
<path class="l" d="M630.6 354C630.9 354.8 631.9 357.3 632.5 359C633.1 360.7 633.8 362.5 634 364C634.2 365.5 634 367.3 634 368"/>
<path class="l" d="M657 349C657.7 349.5 659.7 350.8 661 352C662.3 353.2 664.1 355.3 664.7 356"/>
<path class="l" d="M654 354C654.8 354.8 657.2 357.7 659 359C660.8 360.3 663.8 361.5 664.7 362"/>
<path class="l" d="M639 334.5C639.3 335.6 641 338.9 641 341C641 343.1 640 345.2 639 347C638 348.8 635.7 350.8 635 351.5"/>
<path class="l" d="M652 338C653 337.8 655.9 336.9 658 337C660.1 337.1 663.6 338.2 664.7 338.5"/>
<path class="l" d="M630.6 415C631 415.8 631.6 418.9 633 420C634.4 421.1 636.8 421.3 639 421.5C641.2 421.7 643.8 421.6 646 421C648.2 420.4 650.3 419.3 652 418C653.7 416.7 655.2 414.8 656 413C656.8 411.2 657.3 408.8 657 407C656.7 405.2 655.3 403.5 654 402C652.7 400.5 650.3 399.3 649 398C647.7 396.7 646.5 395.3 646 394C645.5 392.7 646 390.7 646 390"/>
<path class="l" d="M630.6 408C631.5 407.3 634.3 405.6 636 404C637.7 402.4 639.8 400.3 641 398.5C642.2 396.7 642.8 394.8 643 393C643.2 391.2 642.6 388.8 642.5 388"/>
<path class="l" d="M630.6 402C630.9 401.2 631.9 398.7 632.5 397C633.1 395.3 633.8 393.5 634 392C634.2 390.5 634 388.7 634 388"/>
<path class="l" d="M657 407C657.7 406.5 659.7 405.2 661 404C662.3 402.8 664.1 400.7 664.7 400"/>
<path class="l" d="M654 402C654.8 401.2 657.2 398.3 659 397C660.8 395.7 663.8 394.5 664.7 394"/>
<path class="l" d="M639 421.5C639.3 420.4 641 417.1 641 415C641 412.9 640 410.8 639 409C638 407.2 635.7 405.2 635 404.5"/>
<path class="l" d="M630.6 424C632.2 423.8 636.4 423 640 422.5C643.6 422 647.9 421.3 652 421C656.1 420.7 662.6 420.6 664.7 420.5"/>
<path class="l" d="M633 412C633.4 412.7 635.3 414.6 635.5 416C635.7 417.4 634.8 419.3 634 420.5C633.2 421.7 631.5 422.6 631 423"/>
<path class="l" d="M687 330.8L687 377.5"/>
<path class="l" d="M702 353.8L687.5 377.5"/>
<path class="l" d="M687.5 377.5L702.5 378"/>
<path class="l" d="M687.5 377.5C687.3 378.8 687 382.5 686.2 385C685.4 387.5 684 390.4 682.5 392.5C681 394.6 679.2 396.4 677.5 397.5C675.8 398.6 674.2 399.1 672.5 399.4C670.8 399.7 667.9 399.4 667 399.4"/>
<path class="l" d="M702.5 378C702.4 379.8 702.8 385.6 702 388.8C701.2 392.1 699.5 395 697.5 397.5C695.5 400 692.7 402.1 690 403.8C687.3 405.5 683.9 406.8 681.2 407.5C678.5 408.2 675 407.9 673.8 408"/>
<path class="l" d="M673 400L673 422.5"/>
<path class="l" d="M667.5 400L673 410"/>
<path class="l" d="M669.5 400L669.5 424.4"/>
<path class="l" d="M673 422.5C673.3 423.2 674.1 425.2 675 426.5C675.9 427.8 677.3 429.5 678.5 430.5C679.7 431.5 680.4 432.3 682 432.5C683.6 432.7 686 431.8 688 431.8C690 431.8 691.6 431.6 694 432.3C696.4 433 701.1 435.2 702.5 435.8"/>
<path class="l" d="M702.500 438V345C703 338 710 331.500 720 331.200H766"/>
<path class="l" d="M702.5 353.5L718 353.5"/>
<path class="l" d="M712.5 330C711.6 331 708.4 334.2 707 336C705.6 337.8 705 339.5 704 340.5C703 341.5 701.7 341.8 701.2 342"/>
<path class="l" d="M710 323.8L701.2 342"/>
<path class="l" d="M703.8 314.4C705.2 315.7 710.5 319.4 712 322C713.5 324.6 712.4 328.7 712.5 330"/>
<path class="l" d="M716.2 306.2C717.2 306.8 722.4 307.4 722 310C721.6 312.6 716.3 318.6 714 322C711.7 325.4 709 329.2 708 330.6"/>
<path class="l" d="M719 306.5C719.9 307.2 724.8 308 724.5 310.5C724.2 313 719.2 318.1 717 321.5C714.8 324.9 712 329.4 711 331"/>
<path class="l" d="M718 441.900V346C718 338 724 333 740 332.500H765C766.7 332.1 771.7 331.4 775 330C778.3 328.6 781.7 325.9 785 323.8C788.3 321.7 793.3 318.6 795 317.5"/>
<path class="l" d="M721.200 441.900V348.800C721.200 341 727 336.500 740 336.300H766.200C768.1 335.7 774 334.2 777.5 332.5C781 330.8 784.2 328.3 787.5 326.2C790.8 324.1 795.4 321 797 320"/>
<path class="l" d="M724.400 406V351.200C724.400 344 729 339.800 740 339.500"/>
<path class="l" d="M727 404V353.800C727 346.500 731 341.500 740 341.200H766.200"/>
<path class="l" d="M739.4 332L739.4 341.2"/>
<path class="l" d="M766.2 332.5C766.5 333.2 768 335.1 768 336.5C768 337.9 766.5 340.4 766.2 341.2"/>
<path class="l" d="M732.2 346.5L732.2 406"/>
<path class="l" d="M727.5 347C729.2 347.3 733.8 348.4 737.5 348.8C741.2 349.2 745.8 349.5 750 349.4C754.2 349.3 760.4 348.2 762.5 348"/>
<path class="l" d="M721 301.2L768 301.2"/>
<path class="l" d="M730.500 305.600H765.500Q768 305.600 768 308.100Q768 310.600 765.500 310.600H730.500Q728 310.600 728 308.100Q728 305.600 730.500 305.600Z"/>
<path class="l" d="M733 307.200H763L761.500 310.600H734.500Z"/>
<path class="l" d="M719.4 306.2C719.6 306.6 720.1 307.9 720.5 308.5C720.9 309.1 721.4 310 722 310C722.6 310 723.5 309.1 724 308.5C724.5 307.9 724.8 306.8 725 306.5"/>
<path class="l" d="M718.8 305L728.5 305.6"/>
<path class="l" d="M768 305.6C768.7 305.5 770.8 304.9 772 305C773.2 305.1 774.8 305.4 775.5 306C776.2 306.6 776.2 307.8 776 308.5C775.8 309.2 775 310.1 774 310.5C773 310.9 770.7 310.6 770 310.6"/>
<path class="l" d="M733.8 310.6L733.8 331.2"/>
<path class="l" d="M737.5 310.6L737.5 331.2"/>
<path class="l" d="M758 310.6L758 331.2"/>
<path class="l" d="M761.2 310.6L761.2 331.2"/>
<path class="l" d="M733.8 327L761.2 327"/>
<path class="l" d="M728 310C727 311.3 724 315.3 722 318C720 320.7 717.6 323.8 716 326C714.4 328.2 713.1 330.2 712.5 331"/>
<path class="l" d="M770 310.6C771 311.5 774 314.2 776 316C778 317.8 780.3 320.2 782 321.5C783.7 322.8 785.3 323.2 786 323.5"/>
<path class="l" d="M723.8 406C723.8 406.7 723.6 408.6 724 410C724.4 411.4 725.1 413.1 726 414.5C726.9 415.9 728.3 417.3 729.5 418.5C730.7 419.7 731.7 420.7 733 421.5C734.3 422.3 736.8 423.2 737.5 423.5"/>
<path class="l" d="M726.2 404C726.2 404.6 726.2 406.3 726.5 407.5C726.8 408.7 727.2 410.5 728 411.2C728.8 411.9 730.7 411.4 731.2 411.5"/>
<path class="l" d="M727.5 411.2C728.8 410.5 732.3 408 735 407C737.7 406 739.2 405.2 743.8 405C748.4 404.8 759.4 405.5 762.5 405.6"/>
<path class="l" d="M728.8 412.5C730.2 412.7 730.4 413.6 737.5 413.8C744.6 414 765.6 413.8 771.2 413.8"/>
<path class="l" d="M737.5 416.2L765 416.2"/>
<path class="l" d="M737.5 416.2L737.5 423"/>
<path class="l" d="M737.5 423C742.5 423 761.2 423.1 767.5 423C773.8 422.9 772.7 423 775 422.5C777.3 422 779.4 420.7 781.2 420C783 419.3 785.2 418.8 786 418.5"/>
<path class="l" d="M765 416.2C765.3 416.7 766.6 417.9 767 419C767.4 420.1 767.4 419.2 767.5 423C767.6 426.8 767.5 438.8 767.5 441.9"/>
<path class="l" d="M742.5 405.6L742.5 412.5"/>
<path class="l" d="M743.8 405.6L743.8 412.5"/>
<path class="l" d="M748.8 405.6L748.8 412.5"/>
<path class="l" d="M751.2 405.6L751.2 412.5"/>
<path class="l" d="M703 436C704.2 436.4 707.6 437.7 710 438.2C712.4 438.7 707.9 438.7 717.5 438.8C727.1 438.9 755.8 439.6 767.5 438.8C779.2 438 782.5 435.3 787.5 433.8C792.5 432.3 795.8 430.6 797.5 430"/>
</g>
<path class="c" d="M67 368.900H480"/>
<path class="c" d="M266.700 290V452"/>
<path class="c" d="M579 378.200H665"/>
<path class="c" d="M611 307.500V433"/>
<path class="c" d="M747.400 273.500V447.500"/>
<g class="d">
<path d="M20.500 296.500V380.500"/>
<path d="M15.500 357.500H68"/>
<path d="M15.500 380.500H68"/>
<path d="M84.500 425V557.800"/>
<path d="M447.500 425V557.800"/>
<path d="M84.500 551.500H447.500"/>
<path d="M250.500 435V486"/>
<path d="M280.500 435V486"/>
<path d="M250.500 482.500H358"/>
<path d="M524.300 258.500H640"/>
<path d="M598.500 250V307"/>
<path d="M623.500 250V307"/>
<path d="M611.500 489.500H747.500"/>
<path d="M611.500 433.500V493"/>
<path d="M747.500 447.500V493"/>
</g>
<g class="a">
<path d="M20.500 357.500L23.500 369L20.500 380.500L17.500 369Z"/>
<path d="M84.500 551.500L96.500 548.600V554.400Z"/>
<path d="M447.500 551.500L435.500 548.600V554.400Z"/>
<path d="M250.500 482.500L262.500 479.600V485.400Z"/>
<path d="M280.500 482.500L268.500 479.600V485.400Z"/>
<path d="M598.500 258.500L586.300 255.600V261.400Z"/>
<path d="M623.500 258.500L635.500 255.600V261.400Z"/>
<path d="M611.500 489.500L623.500 486.600V492.400Z"/>
<path d="M747.500 489.500L735.500 486.600V492.400Z"/>
</g>
<text x="253" y="548.800" font-size="17.500" textLength="26" lengthAdjust="spacingAndGlyphs">330</text>
<text x="295.800" y="472.200" font-size="17.500" textLength="26.500" lengthAdjust="spacingAndGlyphs">Ø31</text>
<text x="546.800" y="257.200" font-size="17.500" textLength="30" lengthAdjust="spacingAndGlyphs">31,4</text>
<text x="654.500" y="479.700" font-size="17.500" textLength="25" lengthAdjust="spacingAndGlyphs">146</text>
<text transform="translate(15.200 353) rotate(-90)" font-size="17.500" textLength="26.500" lengthAdjust="spacingAndGlyphs">Ø25</text>
</svg>
</body>
</html>
